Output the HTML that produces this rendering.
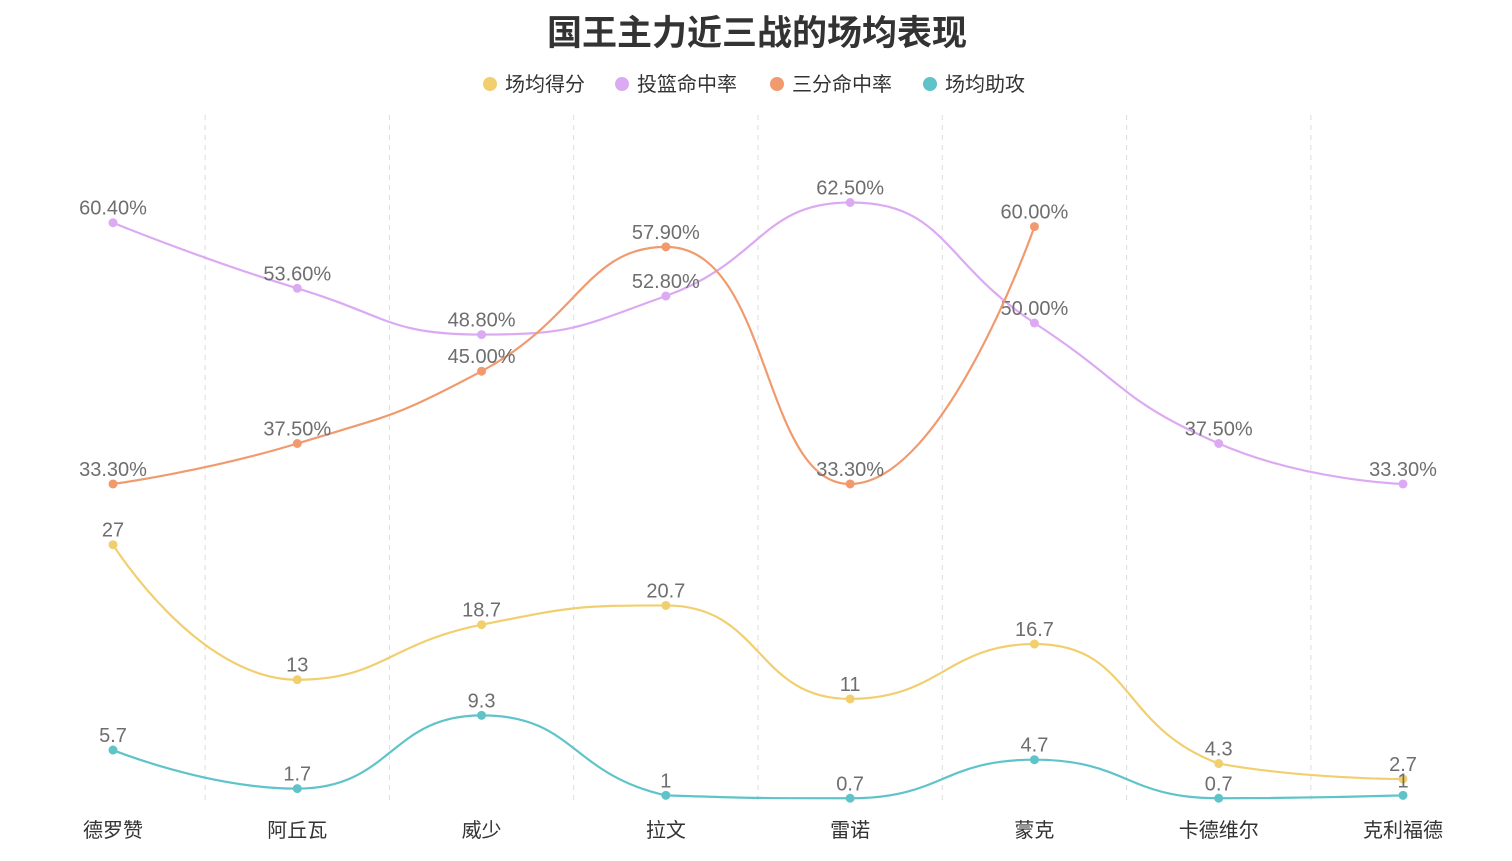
<!DOCTYPE html>
<html><head><meta charset="utf-8">
<style>
body{margin:0;background:#fff;width:1512px;height:856px;overflow:hidden}
svg text{font-family:"Liberation Sans","Noto Sans CJK SC",sans-serif}
</style></head>
<body>
<svg id="chart" width="1512" height="856" xmlns="http://www.w3.org/2000/svg">
<text x="757" y="45" text-anchor="middle" font-size="35" font-weight="bold" fill="#333">国王主力近三战的场均表现</text>
<g id="legend"></g>
<g id="grid"></g>
<g id="series"></g>
<g id="xaxis"></g>
</svg>
<script>
const categories=["德罗赞","阿丘瓦","威少","拉文","雷诺","蒙克","卡德维尔","克利福德"];
const seriesNames=["场均得分","投篮命中率","三分命中率","场均助攻"];
const pointsData=[27,13,18.7,20.7,11,16.7,4.3,2.7];
const fgData=[60.4,53.6,48.8,52.8,62.5,50.0,37.5,33.3];
const threeData=[33.3,37.5,45.0,57.9,33.3,60.0];
const astData=[5.7,1.7,9.3,1,0.7,4.7,0.7,1];
const colors=["#f2cf6e","#dcaaf2","#f09a6e","#5ec4ca"];
const NS="http://www.w3.org/2000/svg";
const x0=113,x1=1403,yBase=805,yScale=9.64;
const step=(x1-x0)/(categories.length-1);
const xPos=i=>x0+i*step;
const yPos=v=>yBase-v*yScale;
function mk(tag,attrs,parent){const e=document.createElementNS(NS,tag);for(const k in attrs)e.setAttribute(k,attrs[k]);parent.appendChild(e);return e;}
const grid=document.getElementById('grid');
for(let i=0;i<categories.length-1;i++){
 const l=mk('line',{x1:xPos(i)+step/2,x2:xPos(i)+step/2,y1:115,y2:805,stroke:'#ddd','stroke-dasharray':'5,5'},grid);
 
 
}
const xa=document.getElementById('xaxis');
categories.forEach((c,i)=>{
 const t=mk('text',{x:xPos(i),y:837,'text-anchor':'middle','font-size':20,fill:'#333'},xa);
 t.textContent=c;
 
 
});
const lg=document.getElementById('legend');
const legX=[490,622,777,930];
seriesNames.forEach((n,i)=>{
 const g=mk('g',{},lg);
 
 
 mk('circle',{cx:legX[i],cy:84,r:7,fill:colors[i]},g);
 const t=mk('text',{x:legX[i]+15,y:91,'font-size':20,fill:'#333'},g);t.textContent=n;
});
// echarts-like smooth with monotone clamping
function smoothPath(pts){
 const n=pts.length,cp=[];
 const s=0.5;
 for(let i=0;i<n;i++){
  const p=pts[i],prev=pts[i-1],next=pts[i+1];
  if(!prev||!next){cp.push([p.slice(),p.slice()]);continue;}
  const vx=next[0]-prev[0],vy=next[1]-prev[1];
  const d0=Math.hypot(p[0]-prev[0],p[1]-prev[1]),d1=Math.hypot(next[0]-p[0],next[1]-p[1]);
  const r0=d0/(d0+d1),r1=d1/(d0+d1);
  let c0=[p[0]-vx*s*r0,p[1]-vy*s*r0],c1=[p[0]+vx*s*r1,p[1]+vy*s*r1];
  // clamp y within neighbours
  const clamp=(c,a,b)=>{const lo=Math.min(a,b),hi=Math.max(a,b);c[1]=Math.max(lo,Math.min(hi,c[1]));};
  clamp(c0,prev[1],p[1]);clamp(c1,p[1],next[1]);
  // keep tangent collinear
  if((prev[1]-p[1])*(next[1]-p[1])>0){c0[1]=p[1];c1[1]=p[1];}
  cp.push([c0,c1]);
 }
 let d=`M${pts[0][0]},${pts[0][1]}`;
 for(let i=0;i<n-1;i++){
  const a=cp[i][1],b=cp[i+1][0],p2=pts[i+1];
  d+=` C${a[0]},${a[1]} ${b[0]},${b[1]} ${p2[0]},${p2[1]}`;
 }
 return d;
}
const sg=document.getElementById('series');
const allData=[pointsData,fgData,threeData,astData];
const fmts=[v=>String(v),v=>v.toFixed(2)+'%',v=>v.toFixed(2)+'%',v=>String(v)];
const names=['points-line','fg-pct-line','three-pct-line','assists-line'];
allData.forEach((data,si)=>{
 const g=mk('g',{},sg);
 
 
 const pts=data.map((v,i)=>[xPos(i),yPos(v)]);
 mk('path',{d:smoothPath(pts),fill:'none',stroke:colors[si],'stroke-width':2.2},g);
 pts.forEach((p,i)=>{
  const c=mk('circle',{cx:p[0],cy:p[1],r:4.5,fill:colors[si]},g);
  
  
  const t=mk('text',{x:p[0],y:p[1]-8,'text-anchor':'middle','font-size':20,fill:'#6e6e6e'},g);
  t.textContent=fmts[si](data[i]);
  
  
 });
});
</script>
</body></html>
